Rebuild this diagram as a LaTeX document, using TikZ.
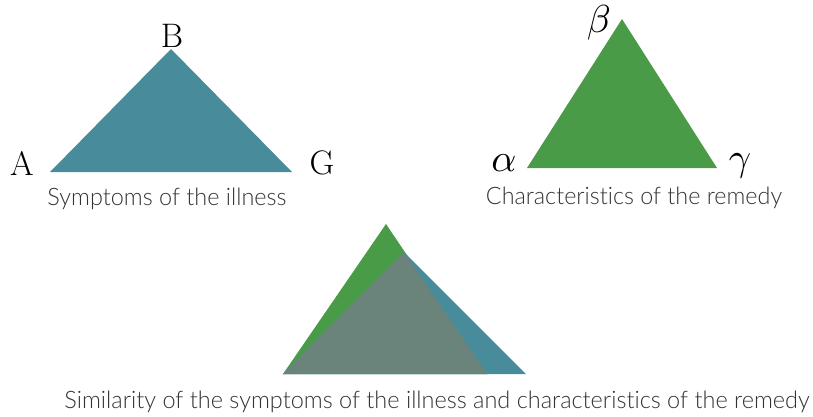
\documentclass[tikz,border=0pt]{standalone}
\usepackage{fontspec}
\setmainfont{Latin Modern Roman}
\newfontfamily\capfont{Lato}[UprightFont=* Light, Ligatures={NoCommon,NoRequired,NoContextual,NoDiscretionary}]
\definecolor{illness}{HTML}{488C9B}
\definecolor{remedy}{HTML}{4A9B47}
\definecolor{overlap}{HTML}{6A837B}
\definecolor{captext}{HTML}{333333}
\tikzset{
  vertexlabel/.style={inner sep=0pt, font=\fontsize{34}{34}\selectfont},
  greeklabel/.style={inner sep=0pt},
  caption/.style={inner sep=0pt, anchor=base, text=captext, font=\capfont},
}
\newcommand{\captionbox}[2]{\resizebox{#1pt}{17.5pt}{#2}}
\newcommand{\bigsym}[1]{\scalebox{3.9}{$#1$}}
\begin{document}
\begin{tikzpicture}[x=1pt, y=-1pt]
  \useasboundingbox (0,0) rectangle (813,416);

  % symptoms of the illness
  \coordinate (A) at (50,172);
  \coordinate (B) at (171,49);
  \coordinate (G) at (292,172);
  \fill[illness] (A) -- (B) -- (G) -- cycle;
  \node[vertexlabel] (labA) at (22,163) {A};
  \node[vertexlabel] (labB) at (172,36) {B};
  \node[vertexlabel] (labG) at (322,163) {G};
  \node[caption] (capS) at (167,205) {\captionbox{239}{Symptoms of the illness}};

  % characteristics of the remedy
  \coordinate (al) at (527,168);
  \coordinate (be) at (622,19);
  \coordinate (ga) at (717,168);
  \fill[remedy] (al) -- (be) -- (ga) -- cycle;
  \node[greeklabel] (labal) at (504,163) {\bigsym{\alpha}};
  \node[greeklabel] (labbe) at (599,23) {\bigsym{\beta}};
  \node[greeklabel] (labga) at (740,166) {\bigsym{\gamma}};
  \node[caption] (capR) at (634,204) {\captionbox{296}{Characteristics of the remedy}};

  % superposition of both triangles
  \coordinate (L) at (283,374);
  \coordinate (Rg) at (487,374);
  \coordinate (Tg) at (386,224);
  \coordinate (Tb) at (404,252);
  \coordinate (Rb) at (526,374);
  \fill[remedy] (L) -- (Tg) -- (Rg) -- cycle;
  \fill[illness] (L) -- (Tb) -- (Rb) -- cycle;
  \fill[overlap] (L) -- (Tb) -- (Rg) -- cycle;
  \node[caption] (capSim) at (437,408) {\captionbox{745}{Similarity of the symptoms of the illness and characteristics of the remedy}};
\end{tikzpicture}
\end{document}
